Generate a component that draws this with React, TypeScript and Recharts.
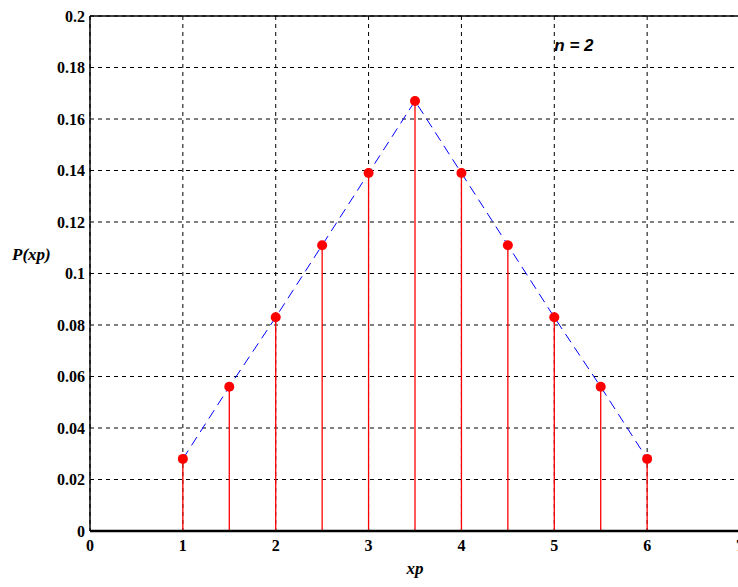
import {
    ComposedChart,
    Line,
    XAxis,
    YAxis,
    CartesianGrid,
    ReferenceLine,
    ReferenceDot,
} from 'recharts';

// sample points of the stem plot
const xpValues = [1, 1.5, 2, 2.5, 3, 3.5, 4, 4.5, 5, 5.5, 6];
const pValues = [0.028, 0.056, 0.083, 0.111, 0.139, 0.167, 0.139, 0.111, 0.083, 0.056, 0.028];

const xTicks = [0, 1, 2, 3, 4, 5, 6, 7];
const yTicks = [0, 0.02, 0.04, 0.06, 0.08, 0.1, 0.12, 0.14, 0.16, 0.18, 0.2];

const data = xpValues.map((x, i) => ({ xp: x, p: pValues[i] }));

const tickFont = {
    fill: '#000',
    fontFamily: '"Liberation Serif", "Times New Roman", serif',
    fontWeight: 'bold',
    fontSize: 16,
};

const YLabel = ({ viewBox }: any) => (
    <text
        x={viewBox.x + 12}
        y={viewBox.y + viewBox.height / 2 - 14}
        fill="#000"
        fontFamily='"Liberation Serif", "Times New Roman", serif'
        fontWeight="bold"
        fontStyle="italic"
        fontSize={17}
    >
        P(xp)
    </text>
);

const NLabel = ({ viewBox }: any) => (
    <text
        x={viewBox.x}
        y={viewBox.y + viewBox.height / 2}
        dy="0.36em"
        fill="#000"
        fontFamily='"Liberation Sans", Arial, sans-serif'
        fontWeight="bold"
        fontStyle="italic"
        fontSize={17}
    >
        n = 2
    </text>
);

export default function App() {
    return (
        <div
            style={{
                position: 'absolute',
                left: 0,
                top: 0,
                width: 738,
                height: 587,
                overflow: 'hidden',
                background: '#fff',
            }}
        >
            <ComposedChart
                width={760}
                height={587}
                data={data}
                margin={{ top: 16, right: 20, left: 0, bottom: 0 }}
            >
                <CartesianGrid stroke="#000" strokeDasharray="4 4" strokeWidth={1} />
                <XAxis
                    dataKey="xp"
                    type="number"
                    domain={[0, 7]}
                    ticks={xTicks}
                    interval={0}
                    height={56}
                    axisLine={{ stroke: '#000', strokeWidth: 2.5 }}
                    tickLine={false}
                    tickSize={0}
                    tickMargin={9}
                    tick={tickFont}
                    label={{
                        value: 'xp',
                        position: 'insideBottom',
                        offset: 13,
                        fill: '#000',
                        fontFamily: '"Liberation Serif", "Times New Roman", serif',
                        fontWeight: 'bold',
                        fontStyle: 'italic',
                        fontSize: 17,
                    }}
                />
                <YAxis
                    type="number"
                    domain={[0, 0.2]}
                    ticks={yTicks}
                    interval={0}
                    width={90}
                    axisLine={{ stroke: '#000', strokeWidth: 1.5 }}
                    tickLine={false}
                    tickSize={0}
                    tickMargin={5}
                    tick={tickFont}
                    tickFormatter={(v: number) => String(v)}
                    label={{ content: <YLabel /> }}
                />
                <ReferenceLine y={0.2} stroke="#000" strokeWidth={1.5} />
                {data.map((d) => (
                    <ReferenceLine
                        key={d.xp}
                        segment={[
                            { x: d.xp, y: 0 },
                            { x: d.xp, y: d.p },
                        ]}
                        stroke="#ff0000"
                        strokeWidth={1.3}
                    />
                ))}
                <Line
                    dataKey="p"
                    type="linear"
                    stroke="#0000ff"
                    strokeWidth={1}
                    strokeDasharray="10 6"
                    dot={{ r: 5, fill: '#ff0000', stroke: '#ff0000', strokeWidth: 0 }}
                    activeDot={false}
                    isAnimationActive={false}
                />
                <ReferenceDot
                    x={5}
                    y={0.1887}
                    r={0}
                    fill="none"
                    stroke="none"
                    label={{ content: <NLabel /> }}
                />
            </ComposedChart>
        </div>
    );
}
